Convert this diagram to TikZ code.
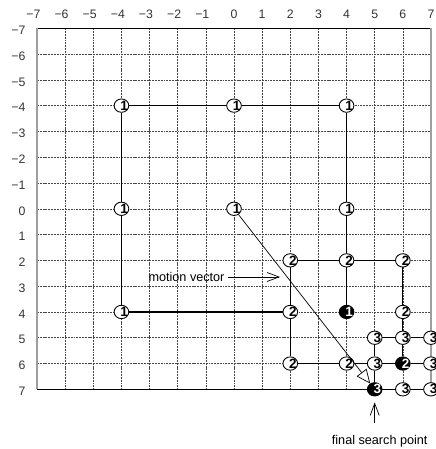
\documentclass[tikz,border=0pt]{standalone}
\usepackage{fontspec}
\setmainfont{Liberation Sans}
\usetikzlibrary{shapes.geometric,arrows.meta,backgrounds}

\begin{document}
\begin{tikzpicture}[x=0.8442cm,y=-0.7737cm,
  gridline/.style={gray!55!black, line width=0.45pt, dash pattern=on 1.6pt off 0.8pt},
  link/.style={black, line width=1.1pt},
  dig/.style={font=\fontsize{11.5}{11.5}\selectfont\bfseries, inner sep=0pt, xshift=0.08cm},
  wpt/.style={ellipse, draw, line width=0.75pt, fill=white, minimum width=0.44cm,
    minimum height=0.40cm, inner sep=0pt, label={[dig]center:#1}},
  bpt/.style={ellipse, draw, line width=0.75pt, fill=black, minimum width=0.44cm,
    minimum height=0.40cm, inner sep=0pt, label={[dig,text=white]center:#1}},
  axl/.style={font=\fontsize{10.5}{10.5}\selectfont, text=black!80, inner sep=0pt},
  note/.style={font=\fontsize{10.8}{12}\selectfont, inner sep=0pt},
  barb/.style={line width=0.6pt, -{Straight Barb[length=0.36cm,width=0.27cm]}},
  mvec/.style={line width=0.6pt, -{Triangle[length=0.42cm,width=0.37cm,fill=white]}},
]
\useasboundingbox (-8.316,-8.096) rectangle (7.178,9.314);

% axis numbers
\foreach \v in {-7,...,7} {
  \ifnum\v<0 \def\sgn{\llap{−}}\else\def\sgn{}\fi
  \node[axl] (top\v) at (\v,-7.553) {\sgn\number\numexpr\ifnum\v<0 -\fi\v\relax};
  \node[axl] (left\v) at (-7.534,\v+0.08) {\sgn\number\numexpr\ifnum\v<0 -\fi\v\relax};
}

% first step (step size 4)
\node[wpt=1] (a1) at (-4,-4) {};
\node[wpt=1] (a2) at (0,-4) {};
\node[wpt=1] (a3) at (4,-4) {};
\node[wpt=1] (a4) at (-4,0) {};
\node[wpt=1] (a5) at (0,0) {};
\node[wpt=1] (a6) at (4,0) {};
\node[wpt=1] (a7) at (-4,4) {};
\node[bpt=1] (c1) at (4,4) {};

% second step (step size 2)
\node[wpt=2] (b1) at (2,2) {};
\node[wpt=2] (b2) at (4,2) {};
\node[wpt=2] (b3) at (6,2) {};
\node[wpt=2] (b4) at (2,4) {};
\node[wpt=2] (b5) at (6,4) {};
\node[wpt=2] (b6) at (2,6) {};
\node[wpt=2] (b7) at (4,6) {};
\node[bpt=2] (c2) at (6,6) {};

% third step (step size 1)
\node[wpt=3] (d1) at (5,5) {};
\node[wpt=3] (d2) at (6,5) {};
\node[wpt=3] (d3) at (7,5) {};
\node[wpt=3] (d4) at (5,6) {};
\node[wpt=3] (d5) at (7,6) {};
\node[wpt=3] (d6) at (6,7) {};
\node[wpt=3] (d7) at (7,7) {};
\node[bpt=3] (c3) at (5,7) {};

\begin{pgfonlayer}{background}
  % dashed grid
  \foreach \i in {-6,...,6} {
    \draw[gridline] (\i,-7) -- (\i,7);
    \draw[gridline] (-7,\i) -- (7,\i);
  }
  % frame
  \draw[black, line width=0.9pt] (-7,-7) -- (7,-7) (-7,7) -- (7,7);
  \draw[gray!75, line width=1.7pt] (-7,-7) -- (-7,7) (7,-7) -- (7,7);
  % search squares
  \draw[link] (a7) -- (a4) -- (a1) -- (a2) -- (a3) -- (a6) -- (b2) -- (c1);
  \draw[link] (a7) -- (b4);
  \draw[link] (b1) -- (b2) -- (b3) -- (b5) -- (d2) -- (c2);
  \draw[link] (b1) -- (b4) -- (b6) -- (b7) -- (d4) -- (c2);
  \draw[link] (d1) -- (d2) -- (d3);
  \draw[link] (d1) -- (d4) -- (c3) -- (d6) -- (d7);
  \draw[link] (c2) -- (d5);
\end{pgfonlayer}

% motion vector
\draw[mvec] (a5) -- (c3);

% annotations
\node[note] (mvlab) at (-1.688,2.644) {motion vector};
\coordinate (mvtip) at (1.635,2.644);
\draw[barb, shorten <=0.1cm] (mvlab) -- (mvtip);

\node[note] (fslab) at (5.178,9.003) {final search point};
\coordinate (fstail) at (5,8.317);
\draw[barb, shorten >=0.18cm] (fstail) -- (c3);
\end{tikzpicture}
\end{document}
